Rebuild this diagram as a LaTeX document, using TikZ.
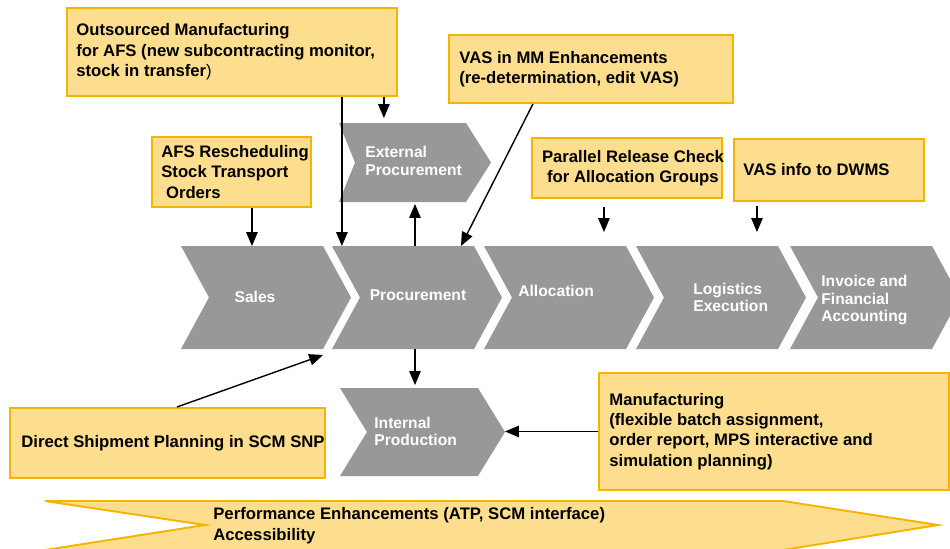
\documentclass[tikz,border=0pt]{standalone}
\usepackage{fontspec}
\setmainfont{Liberation Sans}
\usetikzlibrary{arrows,positioning}

\definecolor{boxfill}{RGB}{253,222,143}
\definecolor{boxline}{RGB}{244,180,0}
\definecolor{chevgrey}{RGB}{152,152,152}

\tikzset{
	box/.style={draw=boxline,fill=boxfill,line width=1.1pt,anchor=north west,inner sep=0pt},
	txt/.style={font=\fontsize{9.5}{11.6}\selectfont\bfseries,align=left,inner sep=0pt},
	chev/.style={fill=chevgrey},
	chevtxt/.style={font=\fontsize{8.9}{10}\selectfont\bfseries,text=white,align=left,inner sep=0pt},
	link/.style={->,line width=0.8pt}
}

\begin{document}
\begin{tikzpicture}[>=triangle 45,x=0.02cm,y=-0.02cm]
				\useasboundingbox (0,0) rectangle (950,548);
				
				%Prozesskette
				\foreach \n/\xa in
					{sal/181,pro/332,all/484,log/636,inv/790}
						\fill[chev] (\xa,246) coordinate (\n) -- ++(142,0) -- ++(28,51.5) -- ++(-28,51.5) -- ++(-142,0) coordinate (\n-b) -- ++(28,-51.5) -- cycle;
				\fill[chev] (339,123) coordinate (ext) -- (466,123) -- (491,162.5) -- (466,202) -- (339,202) coordinate (ext-b) -- (355,162.5) -- cycle;
				\fill[chev] (340,388) coordinate (int) -- (478,388) -- (505,432) coordinate (int-tip) -- (478,476) -- (340,476) -- (367,432) -- cycle;
				
				\node[chevtxt] (sales) at (255,297) {Sales};
				\node[chevtxt] (proc) at (418,295) {Procurement};
				\node[chevtxt,anchor=west] (alloc) at (518,291) {Allocation};
				\node[chevtxt,anchor=west] (logex) at (693,297.5) {Logistics\\Execution};
				\node[chevtxt,anchor=west] (invfi) at (821,300) {Invoice and\\Financial\\Accounting};
				\node[chevtxt,anchor=west] (extpr) at (365,161) {External\\Procurement};
				\node[chevtxt,anchor=west] (intpr) at (374,431.5) {Internal\\Production};
				
				%Pfeil unten
				\filldraw[draw=boxline,fill=boxfill,line width=1.1pt] (45,501) -- (783,501) -- (938,525) -- (783,550) -- (45,550) -- (205,525) -- cycle;
				\node[txt,anchor=west] (perf) at (213,525.5) {Performance Enhancements (ATP, SCM interface)\\Accessibility};
				
				%Kaesten
				\node[box,minimum width=6.6cm,minimum height=1.76cm] (outsrc) at (66,7) {};
				\node[txt,right=0.2cm of outsrc.west] {Outsourced Manufacturing\\for AFS (new subcontracting monitor,\\stock in transfer{\mdseries)}};
				\node[box,minimum width=3.18cm,minimum height=1.4cm] (afs) at (151,136) {};
				\node[txt,right=0.2cm of afs.west] {AFS Rescheduling\\Stock Transport\\\hspace*{0.28em}Orders};
				\node[box,minimum width=5.68cm,minimum height=1.36cm] (vasmm) at (448,34) {};
				\node[txt,right=0.22cm of vasmm.west] {VAS in MM Enhancements\\(re-determination, edit VAS)};
				\node[box,minimum width=3.8cm,minimum height=1.2cm] (parrel) at (531,137) {};
				\node[txt,align=center] at ([xshift=0.12cm]parrel.center) {Parallel Release Check\\for Allocation Groups};
				\node[box,minimum width=3.8cm,minimum height=1.24cm] (vasinfo) at (733,138) {};
				\node[txt,right=0.2cm of vasinfo.west] {VAS info to DWMS};
				\node[box,minimum width=6.3cm,minimum height=1.4cm] (direct) at (9,407) {};
				\node[txt,right=0.24cm of direct.west] {Direct Shipment Planning in SCM SNP};
				\node[box,minimum width=7cm,minimum height=2.34cm] (manuf) at (598,372) {};
				\node[txt,right=0.22cm of manuf.west] {Manufacturing\\(flexible batch assignment,\\order report, MPS interactive and\\simulation planning)};
				
				%Pfeile
				\draw[link] ([xshift=2.2cm]outsrc.south) -- ([xshift=2.2cm]outsrc.south |- pro);
				\draw[link,shorten >=0.1cm] ([xshift=3.04cm]outsrc.south) -- ([xshift=3.04cm]outsrc.south |- ext);
				\draw[link] ([xshift=0.41cm]afs.south) -- ([xshift=0.41cm]afs.south |- sal);
				\draw[link,shorten >=0.04cm] ([xshift=1.66cm]pro) -- ([xshift=1.66cm]pro |- ext-b);
				\draw[link] ([xshift=-1.16cm]vasmm.south) -- ([xshift=2.58cm]pro);
				\draw[link,shorten <=0.16cm,shorten >=0.28cm] ([xshift=-0.46cm]parrel.south) -- ([xshift=-0.46cm]parrel.south |- all);
				\draw[link,shorten <=0.08cm,shorten >=0.28cm] ([xshift=-1.44cm]vasinfo.south) -- ([xshift=-1.44cm]vasinfo.south |- log);
				\draw[link,shorten >=0.06cm] ([xshift=1.66cm]pro-b) -- ([xshift=1.66cm]pro-b |- int);
				\draw[link] ([xshift=0.19cm]direct.north) -- ([shift={(-9,6)}]pro-b);
				\draw[link] (manuf.west) -- (manuf.west -| int-tip);
\end{tikzpicture}
\end{document}
